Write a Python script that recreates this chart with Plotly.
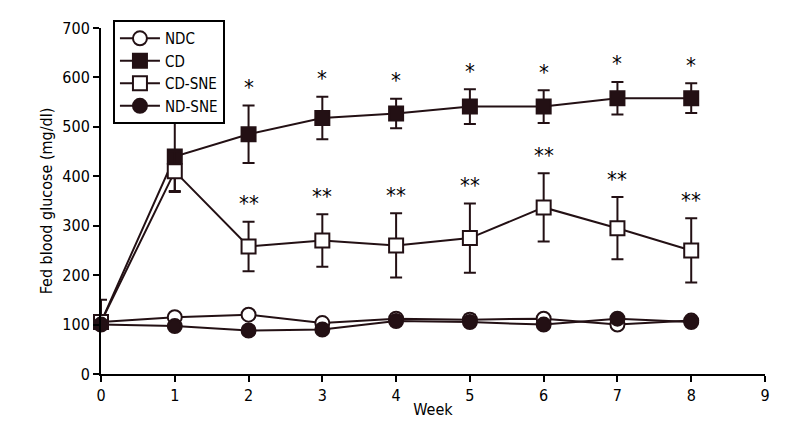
import plotly.graph_objects as go

weeks = [0, 1, 2, 3, 4, 5, 6, 7, 8]
ndc = [105, 115, 120, 103, 112, 110, 112, 100, 108]
ndc_err = [0, 0, 0, 0, 0, 10, 0, 0, 0]
cd = [105, 440, 485, 518, 527, 541, 541, 558, 558]
cd_err = [45, 72, 58, 43, 30, 35, 33, 33, 30]
cd_err_minus = [0, 72, 58, 43, 30, 35, 33, 33, 30]
cdsne = [105, 410, 258, 270, 260, 275, 337, 295, 250]
cdsne_err = [0, 40, 50, 53, 65, 70, 69, 63, 65]
ndsne = [100, 97, 88, 90, 107, 105, 100, 112, 105]
ndsne_err = [0, 0, 8, 0, 0, 0, 0, 0, 0]
cd_sig = ["", "", "*", "*", "*", "*", "*", "*", "*"]
cdsne_sig = ["", "", "**", "**", "**", "**", "**", "**", "**"]

C = "#231014"
FONT = "DejaVu Sans Condensed, Liberation Sans Narrow, sans-serif"

fig = go.Figure()

def add(name, y, err, errm, symbol, fill):
    fig.add_trace(go.Scatter(
        x=weeks, y=y, name=name, mode="lines+markers",
        line=dict(color=C, width=2),
        marker=dict(symbol=symbol, size=14, color=fill, line=dict(color=C, width=2)),
        error_y=dict(type="data", array=err, arrayminus=errm, symmetric=False,
                     visible=True, color=C, thickness=2, width=6),
        cliponaxis=False,
    ))

add("NDC", ndc, ndc_err, ndc_err, "circle", "white")
add("CD", cd, cd_err, cd_err_minus, "square", C)
add("CD-SNE", cdsne, cdsne_err, cdsne_err, "square", "white")
add("ND-SNE", ndsne, ndsne_err, ndsne_err, "circle", C)

for w, v, e, s in zip(weeks, cd, cd_err, cd_sig):
    if s:
        fig.add_annotation(x=w, y=v + e, text=s, showarrow=False, yshift=18,
                           font=dict(size=22, color="#000000", family=FONT))
for w, v, e, s in zip(weeks, cdsne, cdsne_err, cdsne_sig):
    if s:
        fig.add_annotation(x=w, y=v + e, text=s, showarrow=False, yshift=18,
                           font=dict(size=22, color="#000000", family=FONT))

fig.update_layout(
    width=800, height=440,
    margin=dict(l=93, r=43, t=17, b=74),
    plot_bgcolor="white", paper_bgcolor="white",
    font=dict(family=FONT, size=16, color="black"),
    showlegend=True,
    legend=dict(x=0.018, y=1.023, xanchor="left", yanchor="top",
                bordercolor="black", borderwidth=2, bgcolor="white",
                font=dict(size=15), tracegroupgap=0, itemwidth=40),
    xaxis=dict(range=[0, 9], tickvals=list(range(10)), showline=True, linecolor="black",
               linewidth=2, ticks="outside", ticklen=6, tickwidth=2, tickcolor="black",
               showgrid=False, zeroline=False,
               title=dict(text="Week", standoff=0, font=dict(size=16))),
    yaxis=dict(range=[0, 700], tickvals=list(range(0, 701, 100)), showline=True,
               linecolor="black", linewidth=2, ticks="outside", ticklen=6, tickwidth=2,
               tickcolor="black", showgrid=False, zeroline=False,
               title=dict(text="Fed blood glucose (mg/dl)", standoff=6, font=dict(size=16))),
)

fig.write_html("out.html")
